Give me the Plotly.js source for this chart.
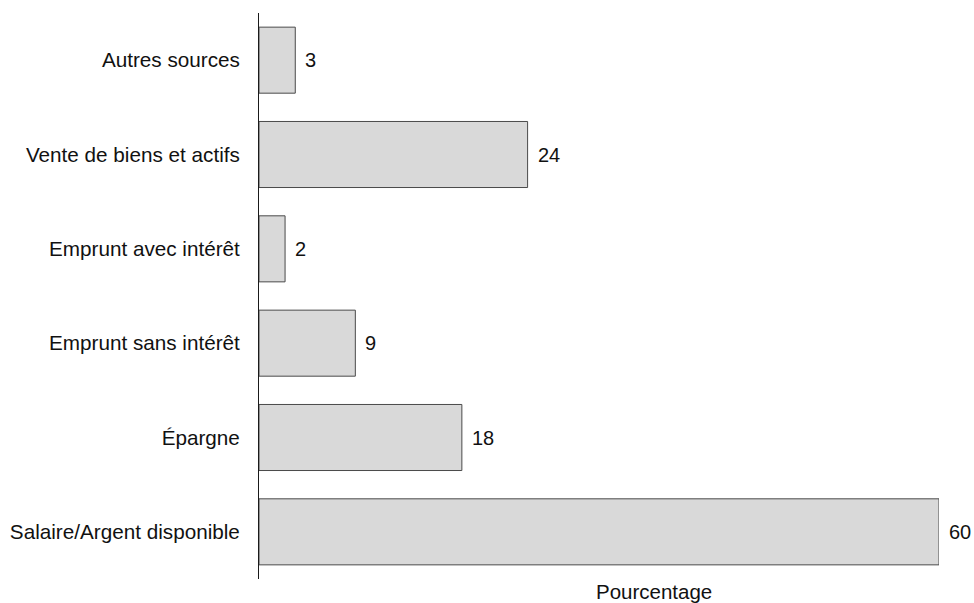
<!DOCTYPE html>
<html>
<head>
<meta charset="utf-8">
<script src="https://cdn.plot.ly/plotly-3.0.1.min.js"></script>
<style>html,body{margin:0;padding:0;background:#fff;}</style>
</head>
<body>
<div id="chart" style="width:974px;height:603px;"></div>
<script>
const categories = ["Salaire/Argent disponible", "Épargne", "Emprunt sans intérêt", "Emprunt avec intérêt", "Vente de biens et actifs", "Autres sources"];
const values = [60, 17.9, 8.5, 2.3, 23.7, 3.2];
const valueLabels = ["60", "18", "9", "2", "24", "3"];
const xTitle = "Pourcentage";

const FONT = "Liberation Sans, Arial, sans-serif";

const annotations = categories.map((c, i) => ({
  x: values[i], y: c, xref: "x", yref: "y",
  text: valueLabels[i], showarrow: false,
  xanchor: "left", yanchor: "middle", xshift: 8,
  font: {family: FONT, size: 20, color: "#111"}
}));
const L = 259, R = 35, T = 13, B = 24, W = 974, H = 603;
annotations.push({
  x: (654 - L) / (W - L - R), y: 1 - (591 - T) / (H - T - B),
  xref: "paper", yref: "paper",
  text: xTitle, showarrow: false, xanchor: "center", yanchor: "middle",
  font: {family: FONT, size: 20.5, color: "#111"}
});

Plotly.newPlot("chart", [{
  type: "bar",
  orientation: "h",
  x: values,
  y: categories,
  marker: {color: "#d9d9d9", line: {color: "#4a4a4a", width: 1}},
  hoverinfo: "none"
}], {
  width: W, height: H,
  margin: {l: L, r: R, t: T, b: B, pad: 0},
  paper_bgcolor: "#fff", plot_bgcolor: "#fff",
  bargap: 0.3,
  showlegend: false,
  xaxis: {range: [0, 60], showgrid: false, zeroline: false, showline: false,
          showticklabels: false, ticks: "", fixedrange: true},
  yaxis: {type: "category", categoryorder: "array", categoryarray: categories,
          showline: true, linecolor: "#1a1a1a", linewidth: 1,
          showgrid: false, zeroline: false, ticks: "",
          ticklabelstandoff: 14,
          tickfont: {family: FONT, size: 20.7, color: "#111"},
          range: [-0.5, 5.5], fixedrange: true},
  annotations: annotations,
  font: {family: FONT}
}, {displayModeBar: false, staticPlot: true});
</script>
</body>
</html>
